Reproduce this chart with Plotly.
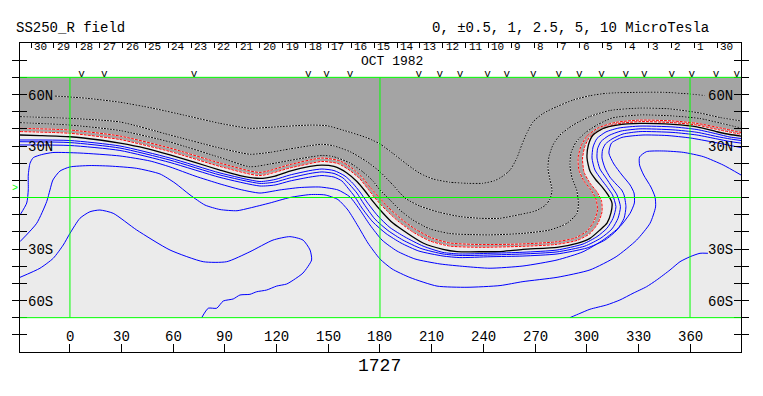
import plotly.graph_objects as go

# ---------------- data (lon, lat) ----------------
LON_RANGE = [-29.0, 389.6]
LAT_RANGE = [-90, 90]

neutral = [(-29.0,36.4),(-17.4,36.1),(0,35.4),(17.4,33.5),(29.0,31.7),(43.5,28.8),(58.1,24.8),(72.6,20.4),
           (87.1,16.0),(98.7,12.8),(110.3,11.1),(119.1,12.5),(127.7,15.4),(139.4,18.1),(146.3,18.9),(153.3,18.1),
           (160.8,14.3),(166.6,9.3),(171.3,3.8),(175.3,-1.5),(181.7,-9.0),(187.5,-14.9),(195.7,-20.7),(205.0,-26.5),
           (216.6,-30.2),(224.7,-31.5),(239.8,-31.6),(249.7,-31.5),(263.0,-30.2),(282.8,-29.0),(294.4,-26.7),
           (301.9,-23.8),(307.7,-18.9),(311.8,-14.9),(314.1,-9.0),(314.7,-3.2),(312.4,1.5),(309.5,5.5),(305.4,10.2),
           (301.9,15.4),(300.2,23.0),(301.0,30.6),(303.7,36.4),(309.5,40.2),(317.6,42.2),(331.0,43.2),(350.1,42.6),
           (364.0,41.2),(375.7,38.3),(383.2,36.7),(389.6,35.8)]

red_outer = [(-29.0,40.3),(0,39.3),(29.0,35.8),(58.1,28.8),(87.1,20.1),(110.3,14.6),(127.7,19.2),(146.3,23.0),
             (156.8,21.3),(163.7,17.2),(169.5,11.9),(174.2,6.1),(178.8,0.9),(184.6,-5.5),(191.6,-11.9),(200.3,-18.3),
             (210.2,-23.6),(220.6,-26.5),(238.1,-27.4),(261.3,-27.1),(281.6,-25.9),(293.2,-23.6),(300.2,-19.5),
             (304.3,-13.7),(306.3,-7.3),(305.4,-0.9),(302.5,4.4),(298.4,9.6),(295.5,16.0),(295.0,23.0),(296.7,30.0),
             (300.2,35.8),(306.6,40.5),(316.4,43.7),(331.0,45.1),(350.1,44.6),(364.0,43.2),(379.3,40.2),(389.6,37.9)]

red_inner = [(-29.0,38.4),(0,37.4),(29.0,33.8),(58.1,26.8),(87.1,18.1),(110.3,12.8),(127.7,17.2),(146.3,21.0),
             (155.6,19.8),(162.6,15.7),(168.4,10.8),(173.0,5.0),(177.6,-0.9),(183.5,-7.3),(190.4,-13.7),(199.1,-20.1),
             (209.0,-25.3),(220.6,-28.3),(238.1,-29.0),(261.3,-28.5),(281.6,-27.4),(294.4,-25.0),(301.9,-21.0),
             (306.6,-14.9),(308.9,-8.4),(308.6,-2.0),(306.0,3.2),(301.9,8.4),(298.4,14.9),(297.6,23.0),(299.0,30.0),
             (301.9,35.5),(308.3,39.6),(317.0,42.8),(331.0,44.2),(350.1,43.6),(364.0,42.2),(377.4,39.3),(389.6,36.8)]

neg_1 = [(-8.7,59.1),(9.9,57.8),(29.0,55.5),(48.2,52.0),(67.9,47.6),(87.1,43.2),(104.5,40.3),(116.1,40.9),
         (139.4,42.2),(149.2,41.8),(162.6,38.0),(172.4,34.8),(180.0,31.2),(187.5,25.7),(195.7,19.3),(203.2,14.1),
         (210.8,10.8),(220.6,8.9),(230.5,8.3),(239.8,8.3),(246.8,9.9),(251.4,12.5),(255.5,16.0),(259.4,22.8),
         (262.3,30.6),(265.2,37.4),(269.0,44.2),(274.8,49.0),(282.6,52.9),(292.2,56.8),(301.9,59.3),(311.6,60.7),
         (331.0,61.3),(344.5,61.3),(360.0,60.3),(368.7,59.4)]

neg_2 = [(-29.0,47.1),(0,46.1),(29.0,44.0),(58.1,36.4),(87.1,28.8),(104.5,25.2),(116.1,26.3),(127.7,28.3),
         (139.4,30.2),(146.3,31.0),(152.7,30.2),(162.6,26.7),(172.4,20.9),(180.0,15.0),(187.5,7.3),(194.5,-0.3),
         (203.2,-5.0),(214.8,-8.7),(226.4,-11.1),(238.1,-12.1),(249.7,-12.1),(261.3,-9.9),(270.0,-7.9),(275.8,-4.7),
         (278.7,-0.9),(279.9,4.4),(278.7,10.2),(277.5,17.2),(278.1,23.6),(280.4,30.6),(284.5,36.4),(292.1,42.2),
         (301.9,47.2),(313.5,50.7),(331.0,52.1),(348.4,51.6),(365.8,49.2),(377.4,46.6),(389.6,44.6)]

neg_3 = [(-29.0,43.6),(0,42.2),(29.0,39.0),(58.1,32.3),(87.1,23.3),(104.5,17.9),(116.1,19.5),(127.7,21.6),
         (139.4,23.6),(146.3,24.5),(152.7,23.9),(162.6,20.1),(170.1,14.9),(175.9,9.6),(180.0,4.4),(185.8,-1.5),
         (191.6,-7.3),(199.1,-13.1),(209.0,-18.3),(220.6,-21.0),(232.3,-21.6),(243.9,-21.8),(263.0,-20.9),
         (278.7,-18.9),(288.6,-15.0),(294.4,-9.2),(295.2,-3.4),(294.2,4.4),(291.5,11.4),(290.3,18.9),(290.9,25.9),
         (293.8,32.3),(299.0,37.6),(306.0,42.2),(314.7,46.3),(331.0,48.1),(350.1,47.5),(365.8,46.0),(377.4,43.4),
         (389.6,40.5)]

pos_1 = [(-29.0,33.5),(0,33.2),(29.0,30.0),(58.1,23.0),(87.1,14.3),(110.3,9.3),(119.1,10.5),(127.7,13.1),
         (139.4,15.7),(146.3,16.6),(153.3,15.7),(159.7,12.5),(164.3,8.2),(168.4,3.2),(172.4,-2.6),(178.8,-10.8),
         (185.8,-17.5),(194.5,-23.0),(205.0,-28.3),(216.6,-32.0),(226.4,-32.9),(243.9,-32.5),(263.0,-31.9),
         (282.8,-30.6),(297.9,-27.1),(306.0,-22.8),(311.8,-17.9),(315.3,-12.1),(317.0,-5.4),(315.0,1.5),(312.1,5.8),
         (308.3,10.8),(304.8,16.0),(303.1,23.0),(303.7,29.4),(306.0,34.4),(311.2,38.2),(318.8,40.5),(331.0,41.6),
         (350.1,41.1),(364.0,39.6),(375.7,37.0),(383.2,35.2),(389.6,34.4)]

pos_2 = [(-29.0,32.5),(0,32.0),(29.0,28.8),(58.1,21.8),(87.1,13.1),(110.3,8.2),(119.1,9.0),(127.7,11.4),
         (139.4,14.0),(146.3,14.9),(153.3,14.0),(158.5,11.4),(162.6,7.3),(166.6,2.6),(170.7,-3.8),(177.0,-12.5),
         (184.6,-19.2),(193.3,-24.8),(203.8,-29.7),(216.6,-32.9),(226.4,-33.8),(243.9,-33.5),(263.0,-32.9),
         (282.8,-31.7),(299.0,-28.3),(308.3,-23.6),(314.7,-18.3),(318.2,-12.1),(319.6,-5.4),(317.6,1.5),(314.7,6.1),
         (311.2,11.4),(307.7,16.6),(306.0,23.0),(306.3,28.3),(308.3,32.6),(312.9,36.1),(319.9,38.7),(331.0,40.0),
         (350.1,39.4),(364.0,38.0),(375.7,35.5),(383.2,34.1),(389.6,33.2)]

pos_3 = [(-29.0,30.6),(0,30.3),(29.0,27.4),(58.1,20.4),(87.1,11.7),(110.3,6.7),(119.1,7.3),(127.7,9.6),
         (139.4,11.9),(146.3,12.8),(153.3,11.9),(157.9,9.6),(161.4,5.5),(165.5,0.3),(169.5,-6.1),(175.9,-14.3),
         (183.5,-21.0),(192.2,-26.5),(202.6,-31.2),(216.6,-34.1),(226.4,-35.0),(243.9,-34.5),(263.0,-34.1),
         (282.8,-32.9),(300.2,-29.4),(310.6,-24.8),(317.6,-18.9),(321.7,-12.1),(322.8,-5.4),(321.7,1.5),(320.3,4.4),
         (317.0,7.9),(313.5,11.9),(310.6,17.2),(308.9,23.0),(309.2,27.7),(310.9,31.2),(314.7,34.1),(321.1,37.0),
         (331.0,38.4),(350.1,37.9),(364.0,36.4),(375.7,34.1),(383.2,32.6),(389.6,31.7)]

pos_4 = [(-29.0,-10.2),(-25.1,-3.2),(-24.2,4.4),(-24.2,13.1),(-23.2,19.9),(-21.3,23.2),(-16.4,25.0),(-9.9,26.2),
         (5.8,25.9),(29.0,24.2),(46.4,21.3),(58.1,17.8),(72.6,12.5),(87.1,7.9),(98.7,4.7),(110.3,2.6),(121.9,4.4),
         (133.5,5.8),(145.2,6.1),(155.6,4.4),(162.6,0.3),(168.4,-7.3),(174.2,-16.0),(181.2,-24.8),(189.9,-31.2),
         (200.3,-35.8),(214.8,-38.7),(229.3,-40.2),(243.9,-41.2),(263.0,-39.9),(282.8,-36.4),(297.9,-31.6),
         (309.5,-24.8),(319.3,-17.0),(325.2,-9.2),(327.7,-3.2),(327.5,2.6),(325.2,7.3),(320.5,13.1),(315.8,19.5),
         (312.9,25.9),(314.4,31.7),(320.5,35.0),(332.7,36.4),(346.6,36.1),(360.0,34.7),(373.3,32.3),(384.9,30.0),
         (389.6,29.1)]

pos_5 = [(-29.0,-25.7),(-19.3,-15.0),(-13.5,-2.4),(-11.6,4.4),(-9.9,10.2),(-5.8,15.4),(0,17.8),(11.6,18.6),
         (23.2,18.3),(38.7,17.0),(52.3,13.7),(61.0,8.4),(69.7,1.5),(78.4,-4.4),(87.1,-7.0),(97.0,-7.7),(104.5,-6.1),
         (116.1,-3.2),(127.7,0),(139.4,1.7),(148.1,1.5),(155.6,-1.2),(161.4,-7.3),(167.2,-16.6),(173.0,-26.5),
         (180.0,-35.8),(187.0,-41.6),(197.4,-46.6),(213.1,-51.6),(230.5,-52.3),(249.7,-51.3),(263.0,-49.0),
         (282.8,-46.5),(301.9,-42.2),(317.1,-34.5),(329.0,-24.8),(336.8,-15.0),(340.0,-5.5),(339.7,0.3),(337.3,6.1),
         (333.1,13.1),(330.7,18.9),(330.7,23.6),(334.7,26.7),(344.5,27.1),(356.1,26.3),(367.7,23.8),(379.3,18.9),
         (389.6,13.1)]

pos_6_west = [(-29.0,-46.5),(-17.4,-41.2),(-9.7,-35.4),(-3.9,-27.7),(0,-20.9),(5.8,-12.1),(11.6,-8.3),(17.4,-7.3),
              (25.1,-9.2),(38.7,-18.9),(58.1,-30.6),(77.4,-37.4),(91.0,-37.4),(104.5,-31.6),(117.9,-24.8),
              (127.7,-22.8),(135.3,-24.8),(139.4,-30.6),(140.3,-36.4),(135.3,-44.0),(129.7,-48.1),(125.8,-50.4),
              (120.0,-51.6),(114.2,-53.9),(108.4,-54.9),(104.5,-56.4),(98.7,-56.8),(94.8,-59.1),(89.0,-60.3),
              (85.2,-64.5),(80.3,-64.5),(76.5,-70.0)]

pos_6_east = [(290.3,-70.0),(296.1,-67.5),(301.9,-65.1),(311.6,-62.6),(319.3,-59.7),(326.9,-55.8),(334.7,-52.0),
              (340.6,-48.1),(348.4,-42.2),(354.2,-37.4),(360.0,-34.5),(365.8,-32.5),(370.4,-32.5)]

# observation marks ("v") along the top
obs_lon = [6.8, 19.9, 72.0, 138.4, 149.0, 162.6, 202.6, 214.8, 226.5, 242.5, 253.6, 269.0, 283.8,
           295.7, 308.7, 322.7, 333.5, 349.4, 361.0, 375.1, 387.1]

# day-of-month labels (Oct 30 ... Oct 1, Sep 30) and their scale
day_labels = ["30", "29", "28", "27", "26", "25", "24", "23", "22", "21", "20", "19", "18", "17", "16",
              "15", "14", "13", "12", "11", "10", "9", "8", "7", "6", "5", "4", "3", "2", "1", "30"]
day_first_lon = -22.6
day_step_lon = 13.28

lon_ticks = [0, 30, 60, 90, 120, 150, 180, 210, 240, 270, 300, 330, 360]
lat_ticks = [-80, -70, -60, -50, -40, -30, -20, -10, 0, 10, 20, 30, 40, 50, 60, 70, 80]
lat_labels = [(60, "60N"), (30, "30N"), (-30, "30S"), (-60, "60S")]
green_lons = [0, 180, 360]
green_lats = [70, 0, -70]

# ---------------- styling ----------------
GRAY = "#a4a4a4"
LIGHT = "#ebebeb"
GREEN = "#00ff00"
BLUE = "#0000ff"
RED = "#ff0000"
FONT = "Liberation Mono, Courier New, monospace"

fig = go.Figure()


def xs(pts):
    return [p[0] for p in pts]


def ys(pts):
    return [p[1] for p in pts]


def add_line(pts, color, width=1.0, dash="solid", under=None):
    if under:
        fig.add_trace(go.Scatter(x=xs(pts), y=ys(pts), mode="lines",
                                 line=dict(color=under, width=width, shape="spline", smoothing=0.6),
                                 hoverinfo="skip", showlegend=False))
    fig.add_trace(go.Scatter(x=xs(pts), y=ys(pts), mode="lines",
                             line=dict(color=color, width=width, dash=dash, shape="spline", smoothing=0.6),
                             hoverinfo="skip", showlegend=False))


# light field background (between 70S and 70N)
fig.add_shape(type="rect", xref="x", yref="y", x0=LON_RANGE[0], x1=LON_RANGE[1], y0=-70, y1=70,
              fillcolor=LIGHT, line=dict(width=0), layer="below")

# gray (negative polarity) region, bounded by the inner red contour and 70N
gray_poly = red_inner + [(LON_RANGE[1], 70), (LON_RANGE[0], 70)]
fig.add_trace(go.Scatter(x=xs(gray_poly), y=ys(gray_poly), mode="lines", fill="toself",
                         fillcolor=GRAY, line=dict(width=0, color=GRAY, shape="linear"),
                         hoverinfo="skip", showlegend=False))

# negative contours (black dashed on white)
for c in (neg_1, neg_2, neg_3):
    add_line(c, "black", 1, "2px,1px", under="white")
# red dashed contours
for c in (red_outer, red_inner):
    add_line(c, RED, 1, "3px,1px", under="white")
# neutral line
add_line(neutral, "black", 1.3)
# positive contours (blue)
for c in (pos_1, pos_2, pos_3, pos_4, pos_5, pos_6_west, pos_6_east):
    add_line(c, BLUE, 1)

# observation marks
fig.add_trace(go.Scatter(x=obs_lon, y=[72.0] * len(obs_lon), mode="text", text=["v"] * len(obs_lon),
                         textfont=dict(family=FONT, size=11, color="black"), xaxis="x2",
                         hoverinfo="skip", showlegend=False))

# green reference lines
for lo in green_lons:
    fig.add_shape(type="line", xref="x", yref="y", x0=lo, x1=lo, y0=-70, y1=70,
                  line=dict(color=GREEN, width=1), layer="above")
for la in green_lats:
    fig.add_shape(type="line", xref="x", yref="y", x0=LON_RANGE[0], x1=LON_RANGE[1], y0=la, y1=la,
                  line=dict(color=GREEN, width=1), layer="above")

ann = []
# day labels
day_seps = [day_first_lon + k * day_step_lon for k in range(len(day_labels))]
for lo, lab in zip(day_seps, day_labels):
    ann.append(dict(x=lo, y=87.6, xref="x", yref="y", text=lab, showarrow=False, xanchor="left",
                    yanchor="middle", xshift=1, font=dict(family=FONT, size=11, color="black")))
# longitude labels
for lo in lon_ticks:
    ann.append(dict(x=lo, y=-81.3, xref="x", yref="y", text=str(lo), showarrow=False,
                    xanchor="center", yanchor="middle", font=dict(family=FONT, size=14, color="black")))
# latitude labels (inside both sides)
for la, lab in lat_labels:
    ann.append(dict(x=LON_RANGE[0], y=la, xref="x", yref="y", text=lab, showarrow=False, xanchor="left",
                    yanchor="middle", xshift=6, yshift=-1, font=dict(family=FONT, size=14, color="black")))
    ann.append(dict(x=LON_RANGE[1], y=la, xref="x", yref="y", text=lab, showarrow=False, xanchor="right",
                    yanchor="middle", xshift=-6, yshift=-1, font=dict(family=FONT, size=14, color="black")))
# headings
ann.append(dict(x=-0.008, y=1.0485, xref="paper", yref="paper", text="SS250_R field", showarrow=False,
                xanchor="left", yanchor="middle", font=dict(family=FONT, size=14, color="black")))
ann.append(dict(x=0.958, y=1.0485, xref="paper", yref="paper", text="0, \u00b10.5, 1, 2.5, 5, 10 MicroTesla",
                showarrow=False, xanchor="right", yanchor="middle", font=dict(family=FONT, size=14, color="black")))
ann.append(dict(x=187.2, y=79.2, xref="x", yref="y", text="OCT 1982", showarrow=False,
                xanchor="center", yanchor="middle", font=dict(family=FONT, size=13, color="black")))
ann.append(dict(x=0.4993, y=-0.046, xref="paper", yref="paper", text="1727", showarrow=False,
                xanchor="center", yanchor="middle", font=dict(family=FONT, size=18, color="black")))
ann.append(dict(x=-0.007, y=5.5, xref="paper", yref="y", text=">", showarrow=False,
                xanchor="center", yanchor="middle", font=dict(family=FONT, size=10, color=GREEN)))

fig.update_layout(
    width=763, height=396,
    margin=dict(l=20, r=22, t=43, b=44, pad=0),
    paper_bgcolor="white", plot_bgcolor="white",
    showlegend=False,
    font=dict(family=FONT, size=12, color="black"),
    annotations=ann,
    xaxis=dict(range=LON_RANGE, showgrid=False, zeroline=False, showline=True, linecolor="black",
               linewidth=1, mirror=True, ticks="inside", ticklen=8, tickcolor="black", tickwidth=1,
               tickmode="array", tickvals=lon_ticks, showticklabels=False),
    xaxis2=dict(range=LON_RANGE, overlaying="x", side="top", showgrid=False, zeroline=False,
                showline=False, ticks="inside", ticklen=5, tickcolor="black", tickwidth=1,
                tickmode="array", tickvals=day_seps, showticklabels=False),
    yaxis=dict(range=LAT_RANGE, showgrid=False, zeroline=False, showline=True, linecolor="black",
               linewidth=1, mirror="allticks", ticks="inside", ticklen=7, tickcolor="black", tickwidth=1,
               tickmode="array", tickvals=lat_ticks, showticklabels=False),
)

fig.write_html("out.html", config={"displayModeBar": False},
               post_script="document.body.style.margin='0';")
